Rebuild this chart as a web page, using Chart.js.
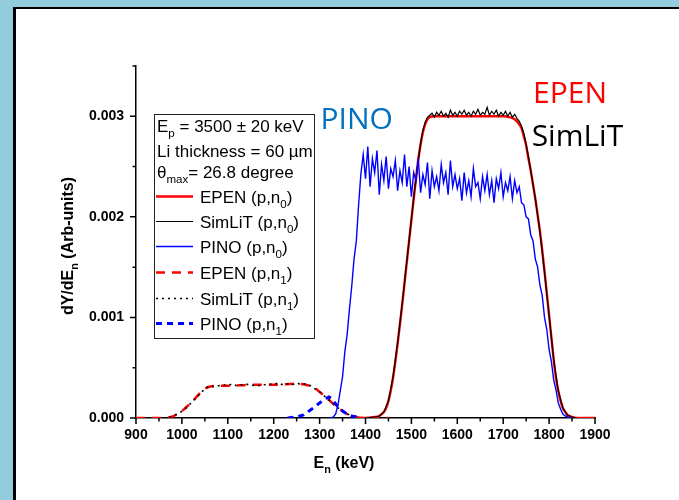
<!DOCTYPE html>
<html>
<head>
<meta charset="utf-8">
<title>Neutron spectra</title>
<script src="https://cdn.jsdelivr.net/npm/chart.js@4.4.1/dist/chart.umd.min.js"></script>
<style>
    html,
    body {
        margin: 0;
        padding: 0;
        overflow: hidden;
        background: #ffffff;
    }

    #spectrumChart {
        display: block;
    }
</style>
</head>
<body>
<canvas id="spectrumChart" width="679" height="500"></canvas>

<script>
"use strict";

// axis ticks
const xTickValues = [900, 1000, 1100, 1200, 1300, 1400, 1500, 1600, 1700, 1800, 1900];
const xMinorTickValues = [950, 1050, 1150, 1250, 1350, 1450, 1550, 1650, 1750, 1850];
const yTickValues = [0, 0.001, 0.002, 0.003];
const yMinorTickValues = [0.0005, 0.0015, 0.0025, 0.0035];

// EPEN (p,n0)
const epenN0Energy = [
    1380, 1400, 1420, 1430, 1440, 1445, 1450, 1455, 1460, 1465,
    1470, 1475, 1480, 1485, 1490, 1495, 1500, 1505, 1510, 1515,
    1520, 1525, 1530, 1535, 1540, 1550, 1600, 1650, 1700, 1715,
    1725, 1735, 1740, 1745, 1750, 1755, 1760, 1765, 1770, 1775,
    1780, 1785, 1790, 1795, 1800, 1805, 1810, 1815, 1820, 1825,
    1830, 1835, 1840, 1850, 1860, 1900
];
const epenN0Yield = [
    0, 0, 0.00001, 0.00002, 0.00006, 0.0001, 0.00017, 0.00027, 0.0004, 0.00056,
    0.00074, 0.00093, 0.00113, 0.00134, 0.00155, 0.00176, 0.00197, 0.00218, 0.00238, 0.00257,
    0.00272, 0.00284, 0.00292, 0.00297, 0.00299, 0.003, 0.003, 0.003, 0.003, 0.00299,
    0.00297, 0.00292, 0.00288, 0.0028, 0.00271, 0.00258, 0.00246, 0.00232, 0.00218, 0.00202,
    0.00186, 0.00167, 0.00146, 0.00124, 0.00102, 0.0008, 0.00058, 0.0004, 0.00027, 0.00017,
    0.0001, 0.00006, 0.00003, 0.00001, 0, 0
];

// SimLiT (p,n0)
const simlitN0Energy = [
    1400, 1420, 1430, 1440, 1450, 1460, 1470, 1480, 1490, 1500,
    1510, 1520, 1525, 1530, 1535,
    1540, 1545, 1550, 1555, 1560, 1565, 1570, 1575, 1580, 1585,
    1590, 1595, 1600, 1605, 1610, 1615, 1620, 1625, 1630, 1635,
    1640, 1645, 1650, 1655, 1660, 1665, 1670, 1675, 1680, 1685,
    1690, 1695, 1700, 1705, 1710, 1715, 1720, 1725, 1730, 1735,
    1740, 1745, 1750, 1755, 1760, 1770, 1780, 1790, 1800, 1810,
    1820, 1830, 1840, 1850, 1860
];
const simlitN0Yield = [
    0, 0.00001, 0.00002, 0.00006, 0.00017, 0.00041, 0.00075, 0.00114, 0.00156, 0.00198,
    0.00239, 0.00273, 0.00286, 0.00294, 0.00299,
    0.00301, 0.00303, 0.00299, 0.00304, 0.00301, 0.00305, 0.003, 0.00303, 0.00299, 0.00306,
    0.00301, 0.00304, 0.003, 0.00305, 0.00302, 0.00306, 0.00301, 0.00304, 0.003, 0.00305,
    0.00302, 0.00307, 0.00301, 0.00304, 0.00302, 0.00309, 0.00301, 0.00305, 0.00302, 0.00306,
    0.003, 0.00304, 0.00301, 0.00305, 0.003, 0.00304, 0.00299, 0.00302, 0.00298, 0.00295,
    0.0029, 0.00283, 0.00272, 0.0026, 0.00246, 0.00218, 0.00185, 0.00145, 0.00102, 0.00058,
    0.00027, 0.0001, 0.00003, 0.00001, 0
];

// PINO (p,n0)
const pinoN0Energy = [
    1320, 1325, 1330, 1335, 1340, 1345, 1350, 1355, 1360, 1365,
    1370, 1375, 1380, 1385, 1390, 1395, 1400, 1405, 1410, 1415,
    1420, 1425, 1430, 1435, 1440, 1445, 1450, 1455, 1460, 1465,
    1470, 1475, 1480, 1485, 1490, 1495, 1500, 1505, 1510, 1515,
    1520, 1525, 1530, 1535, 1540, 1545, 1550, 1555, 1560, 1565,
    1570, 1575, 1580, 1585, 1590, 1595, 1600, 1605, 1610, 1615,
    1620, 1625, 1630, 1635, 1640, 1645, 1650, 1655, 1660, 1665,
    1670, 1675, 1680, 1685, 1690, 1695, 1700, 1705, 1710, 1715,
    1720, 1725, 1730, 1735, 1740, 1745, 1750, 1755, 1760, 1765,
    1770, 1775, 1780, 1785, 1790, 1795, 1800, 1805, 1810, 1815,
    1820, 1825, 1830, 1835, 1840, 1845, 1850
];
const pinoN0Yield = [
    0, 0, 0.00001, 0.00004, 0.00013, 0.00027, 0.00041, 0.00066, 0.00083, 0.00108,
    0.00131, 0.00158, 0.00176, 0.00212, 0.00243, 0.00262, 0.00238, 0.0027, 0.0023, 0.00258,
    0.00244, 0.00266, 0.00222, 0.00252, 0.00236, 0.0026, 0.00228, 0.00248, 0.0024, 0.00256,
    0.00226, 0.00246, 0.00234, 0.00262, 0.0023, 0.0025, 0.0022, 0.00244, 0.00236, 0.00258,
    0.00224, 0.00242, 0.00232, 0.00254, 0.00218, 0.00246, 0.0023, 0.0024, 0.00226, 0.00252,
    0.00234, 0.00244, 0.00222, 0.00256, 0.0023, 0.00242, 0.00228, 0.00238, 0.00216, 0.00244,
    0.00224, 0.00236, 0.0022, 0.00248, 0.0023, 0.00234, 0.00218, 0.0024, 0.00226, 0.00242,
    0.00222, 0.00236, 0.00214, 0.00238, 0.00228, 0.00244, 0.0022, 0.00234, 0.00226, 0.0024,
    0.00218, 0.00236, 0.00224, 0.0023, 0.00214, 0.00212, 0.002, 0.00198, 0.00182, 0.00176,
    0.00158, 0.0015, 0.00132, 0.00122, 0.001, 0.00088, 0.00068, 0.00056, 0.00038, 0.00028,
    0.00015, 0.00009, 0.00004, 0.00002, 0.00001, 0, 0
];

// EPEN (p,n1)
const epenN1Energy = [
    900, 950, 970, 980, 990, 1000, 1010, 1020, 1030, 1040,
    1050, 1060, 1075, 1100, 1150, 1200, 1250, 1270, 1285, 1300,
    1310, 1320, 1330, 1340, 1350, 1360, 1370, 1380, 1390, 1450
];
const epenN1Yield = [
    0, 0, 0.000005, 0.000015, 0.00004, 0.00007, 0.00011, 0.00015, 0.0002, 0.00025,
    0.00029, 0.00031, 0.00032, 0.00032, 0.00033, 0.00033, 0.00034, 0.00033, 0.00031, 0.00026,
    0.00022, 0.00018, 0.00014, 0.0001, 0.00007, 0.00004, 0.00002, 0.00001, 0, 0
];

// SimLiT (p,n1)
const simlitN1Energy = [
    960, 975, 990, 1005, 1020, 1035, 1050, 1060, 1070, 1080,
    1090, 1100, 1110, 1120, 1130, 1140, 1150, 1160, 1170, 1180,
    1190, 1200, 1210, 1220, 1230, 1240, 1250, 1260, 1270, 1280,
    1290, 1300, 1310, 1320, 1330, 1340, 1350, 1360, 1370, 1380,
    1390, 1400
];
const simlitN1Yield = [
    0, 0.00001, 0.00004, 0.00008, 0.00015, 0.00022, 0.00029, 0.00032, 0.00031, 0.00032,
    0.00033, 0.00032, 0.00034, 0.00032, 0.00033, 0.00034, 0.00032, 0.00033, 0.00032, 0.00033,
    0.00034, 0.00033, 0.00035, 0.00033, 0.00034, 0.00033, 0.00035, 0.00033, 0.00034, 0.00032,
    0.00029, 0.00026, 0.00022, 0.00018, 0.00014, 0.0001, 0.00007, 0.00004, 0.00002, 0.00001,
    0, 0
];

// PINO (p,n1)
const pinoN1Energy = [
    1230, 1250, 1265, 1280, 1290, 1300, 1310, 1320, 1325, 1330,
    1340, 1350, 1360, 1370, 1380, 1390
];
const pinoN1Yield = [
    0, 0.00001, 0.00003, 0.00008, 0.00011, 0.00015, 0.00018, 0.00021, 0.0002, 0.00017,
    0.00011, 0.00007, 0.00004, 0.00002, 0.00001, 0
];

const AXIS_FONT = "'Liberation Sans', Arial, sans-serif";
const NOTE_FONT = "'Open Sans', 'Noto Sans', sans-serif";

const SpectrumChart = {

    chart: null,

    initialize() {

        if (typeof Chart === "undefined") {

            console.error("Chart.js not loaded.");

            return;
        }

        this.render();
    },

    toPoints(energy, values) {

        return energy.map(
            (e, index) => ({ x: e, y: values[index] })
        );
    },

    buildDatasets() {

        return [
            {
                label: "EPEN",
                reaction: "0",
                data: this.toPoints(epenN0Energy, epenN0Yield),
                borderColor: "#ff0000",
                borderWidth: 2.4,
                cubicInterpolationMode: "monotone",
                order: 3
            },
            {
                label: "SimLiT",
                reaction: "0",
                data: this.toPoints(simlitN0Energy, simlitN0Yield),
                borderColor: "#000000",
                borderWidth: 1.2,
                order: 2
            },
            {
                label: "PINO",
                reaction: "0",
                data: this.toPoints(pinoN0Energy, pinoN0Yield),
                borderColor: "#0000ff",
                borderWidth: 1.4,
                order: 1
            },
            {
                label: "EPEN",
                reaction: "1",
                data: this.toPoints(epenN1Energy, epenN1Yield),
                borderColor: "#ff0000",
                borderWidth: 2.5,
                borderDash: [9, 7],
                cubicInterpolationMode: "monotone",
                order: 6
            },
            {
                label: "SimLiT",
                reaction: "1",
                data: this.toPoints(simlitN1Energy, simlitN1Yield),
                borderColor: "#000000",
                borderWidth: 1.6,
                borderDash: [2, 4],
                order: 5
            },
            {
                label: "PINO",
                reaction: "1",
                data: this.toPoints(pinoN1Energy, pinoN1Yield),
                borderColor: "#0000ff",
                borderWidth: 3,
                borderDash: [6, 5],
                order: 4
            }
        ];
    },

    // draws text pieces, some of them as subscripts
    drawRich(ctx, parts, x, y, size, weight, align) {

        const subSize = size * 0.68;

        let total = 0;

        parts.forEach(part => {

            ctx.font = `${weight} ${part.sub ? subSize : size}px ${AXIS_FONT}`;

            total += ctx.measureText(part.text).width;
        });

        let cursor = align === "center" ? x - total / 2 : x;

        ctx.textAlign = "left";
        ctx.textBaseline = "alphabetic";

        parts.forEach(part => {

            ctx.font = `${weight} ${part.sub ? subSize : size}px ${AXIS_FONT}`;

            ctx.fillText(part.text, cursor, part.sub ? y + size * 0.3 : y);

            cursor += ctx.measureText(part.text).width;
        });
    },

    // slide frame: blue margin with a black edge on left and top
    framePlugin() {

        return {
            id: "slideFrame",

            beforeDraw(chart) {

                const ctx = chart.ctx;
                const width = chart.width;
                const height = chart.height;

                ctx.save();

                ctx.fillStyle = "#93cddd";
                ctx.fillRect(0, 0, width, height);

                ctx.fillStyle = "#000000";
                ctx.fillRect(13, 7, width - 13, height - 7);

                ctx.fillStyle = "#ffffff";
                ctx.fillRect(16, 9, width - 16, height - 9);

                ctx.restore();
            }
        };
    },

    tickPlugin() {

        return {
            id: "axisTicks",

            afterDraw(chart) {

                const ctx = chart.ctx;
                const xScale = chart.scales.x;
                const yScale = chart.scales.y;
                const area = chart.chartArea;

                ctx.save();
                ctx.strokeStyle = "#000000";
                ctx.lineWidth = 1.5;
                ctx.beginPath();

                const xTick = (value, length) => {

                    const px = xScale.getPixelForValue(value);

                    ctx.moveTo(px, area.bottom);
                    ctx.lineTo(px, area.bottom + length);
                };

                const yTick = (value, length) => {

                    const py = yScale.getPixelForValue(value);

                    ctx.moveTo(area.left, py);
                    ctx.lineTo(area.left - length, py);
                };

                xTickValues.forEach(v => xTick(v, 6));
                xMinorTickValues.forEach(v => xTick(v, 3.5));
                yTickValues.forEach(v => yTick(v, 6));
                yMinorTickValues.forEach(v => yTick(v, 3.5));

                ctx.stroke();
                ctx.restore();
            }
        };
    },

    textPlugin() {

        const self = this;

        return {
            id: "textLayer",

            afterDraw(chart) {

                const ctx = chart.ctx;
                const xScale = chart.scales.x;
                const yScale = chart.scales.y;

                ctx.save();
                ctx.fillStyle = "#000000";

                // axis titles
                self.drawRich(
                    ctx,
                    [
                        { text: "E" },
                        { text: "n", sub: true },
                        { text: " (keV)" }
                    ],
                    344,
                    468,
                    16,
                    "bold",
                    "center"
                );

                ctx.save();
                ctx.translate(73, 246);
                ctx.rotate(-Math.PI / 2);

                self.drawRich(
                    ctx,
                    [
                        { text: "dY/dE" },
                        { text: "n", sub: true },
                        { text: " (Arb-units)" }
                    ],
                    0,
                    0,
                    16,
                    "bold",
                    "center"
                );

                ctx.restore();

                // curve names
                ctx.font = `30px ${NOTE_FONT}`;
                ctx.textAlign = "left";
                ctx.textBaseline = "alphabetic";

                ctx.fillStyle = "#0070c0";
                ctx.fillText("PINO", xScale.getPixelForValue(1302), yScale.getPixelForValue(0.00287));

                ctx.fillStyle = "#ff0000";
                ctx.fillText("EPEN", xScale.getPixelForValue(1765), yScale.getPixelForValue(0.00313));

                ctx.fillStyle = "#000000";
                ctx.fillText("SimLiT", xScale.getPixelForValue(1762), yScale.getPixelForValue(0.0027));

                ctx.restore();
            }
        };
    },

    legendPlugin() {

        const self = this;

        return {
            id: "boxLegend",

            afterDraw(chart) {

                const ctx = chart.ctx;
                const box = { left: 154, top: 114, right: 314, bottom: 338 };

                ctx.save();

                ctx.fillStyle = "#ffffff";
                ctx.fillRect(box.left, box.top, box.right - box.left, box.bottom - box.top);

                ctx.strokeStyle = "#222222";
                ctx.lineWidth = 1;
                ctx.strokeRect(box.left + 0.5, box.top + 0.5, box.right - box.left, box.bottom - box.top);

                ctx.fillStyle = "#000000";

                self.drawRich(
                    ctx,
                    [
                        { text: "E" },
                        { text: "p", sub: true },
                        { text: " = 3500 \u00b1 20 keV" }
                    ],
                    157,
                    132,
                    17,
                    "normal",
                    "left"
                );

                self.drawRich(
                    ctx,
                    [{ text: "Li thickness = 60 \u00b5m" }],
                    157,
                    157,
                    17,
                    "normal",
                    "left"
                );

                self.drawRich(
                    ctx,
                    [
                        { text: "\u03b8" },
                        { text: "max", sub: true },
                        { text: "= 26.8 degree" }
                    ],
                    157,
                    178,
                    17,
                    "normal",
                    "left"
                );

                const rowBaselines = [203, 228, 253, 279, 305, 330];

                chart.data.datasets.forEach((dataset, index) => {

                    const baseline = rowBaselines[index];
                    const lineY = baseline - 6.5;

                    ctx.save();
                    ctx.strokeStyle = dataset.borderColor;
                    ctx.lineWidth = dataset.borderWidth;
                    ctx.setLineDash(dataset.borderDash || []);
                    ctx.beginPath();
                    ctx.moveTo(156, lineY);
                    ctx.lineTo(193, lineY);
                    ctx.stroke();
                    ctx.restore();

                    ctx.fillStyle = "#000000";

                    self.drawRich(
                        ctx,
                        [
                            { text: `${dataset.label} (p,n` },
                            { text: dataset.reaction, sub: true },
                            { text: ")" }
                        ],
                        200,
                        baseline,
                        17,
                        "normal",
                        "left"
                    );
                });

                ctx.restore();
            }
        };
    },

    render() {

        const canvas = document.getElementById("spectrumChart");

        if (!canvas) {

            return;
        }

        const tickFont = {
            family: AXIS_FONT,
            size: 14,
            weight: "bold"
        };

        this.chart = new Chart(canvas, {

            type: "line",

            data: {
                datasets: this.buildDatasets()
            },

            options: {

                responsive: false,
                animation: false,

                layout: {
                    padding: { left: 0, right: 84, top: 66, bottom: 42 }
                },

                elements: {
                    point: { radius: 0 },
                    line: { tension: 0, fill: false }
                },

                plugins: {
                    legend: { display: false },
                    tooltip: { enabled: false }
                },

                scales: {

                    x: {
                        type: "linear",
                        min: 900,
                        max: 1900,
                        afterFit(scale) {
                            scale.height = 40;
                        },
                        afterBuildTicks(scale) {
                            scale.ticks = xTickValues.map(value => ({ value }));
                        },
                        grid: { display: false, drawTicks: false },
                        border: { display: true, color: "#000000", width: 1.5 },
                        ticks: {
                            color: "#000000",
                            font: tickFont,
                            padding: 9,
                            maxRotation: 0,
                            autoSkip: false,
                            callback: value => String(value)
                        }
                    },

                    y: {
                        type: "linear",
                        min: 0,
                        max: 0.0035,
                        afterFit(scale) {
                            scale.width = 136;
                        },
                        afterBuildTicks(scale) {
                            scale.ticks = yTickValues.map(value => ({ value }));
                        },
                        grid: { display: false, drawTicks: false },
                        border: { display: true, color: "#000000", width: 1.5 },
                        ticks: {
                            color: "#000000",
                            font: tickFont,
                            padding: 12,
                            autoSkip: false,
                            callback: value => Number(value).toFixed(3)
                        }
                    }
                }
            },

            plugins: [
                this.framePlugin(),
                this.tickPlugin(),
                this.textPlugin(),
                this.legendPlugin()
            ]
        });
    }
};

document.addEventListener("DOMContentLoaded", () => {

    try {

        SpectrumChart.initialize();

    } catch (error) {

        console.error("Chart initialization failed", error);
    }
});
</script>
</body>
</html>
